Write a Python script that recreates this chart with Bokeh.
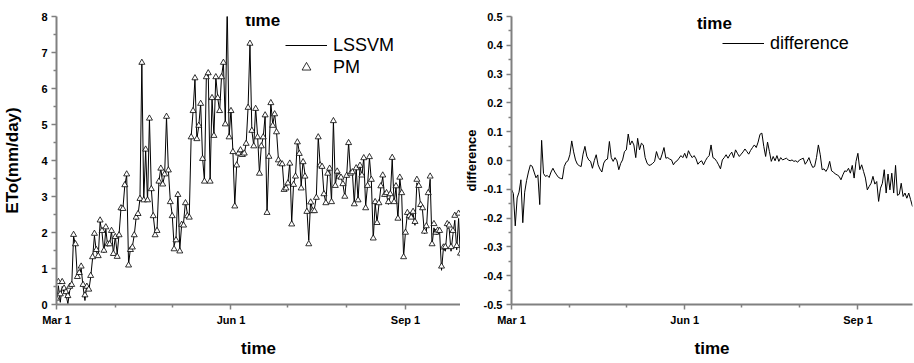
from bokeh.plotting import figure
from bokeh.layouts import row
from bokeh.models import Range1d, FixedTicker, Legend, LegendItem, Label, PrintfTickFormatter
from bokeh.embed import file_html
from bokeh.resources import INLINE

# x positions: days after Mar 1
day_ticks = [0, 92, 184]
day_labels = ["Mar 1", "Jun 1", "Sep 1"]
month_minor = [31, 61, 122, 153]

eto_ticks = [0, 1, 2, 3, 4, 5, 6, 7, 8]
eto_minor = [0.5, 1.5, 2.5, 3.5, 4.5, 5.5, 6.5, 7.5]
diff_ticks = [-0.5, -0.4, -0.3, -0.2, -0.1, 0.0, 0.1, 0.2, 0.3, 0.4, 0.5]
diff_minor = [-0.45, -0.35, -0.25, -0.15, -0.05, 0.05, 0.15, 0.25, 0.35, 0.45]

pm = [
    0.17, 0.63, 0.29, 0.63, 0.45, 0.35, 0.24, 0.50, 0.55, 1.94,
    1.68, 0.77, 0.88, 1.06, 0.55, 0.26, 0.50, 0.42, 0.80, 1.32,
    1.97, 1.52, 1.35, 2.34, 2.05, 1.50, 2.15, 1.68, 1.68, 2.05,
    1.41, 1.88, 1.33, 1.93, 2.68, 2.66, 3.32, 3.62, 1.09, 1.52,
    1.59, 1.93, 2.42, 2.52, 2.94, 6.72, 2.90, 4.31, 2.90, 5.17,
    3.21, 2.46, 1.93, 2.05, 3.42, 3.78, 3.34, 3.62, 5.22, 3.73,
    2.85, 2.46, 1.54, 1.79, 3.05, 1.48, 2.22, 2.20, 2.82, 2.46,
    2.42, 4.65, 5.38, 6.29, 4.60, 4.97, 5.58, 4.05, 3.42, 6.32,
    6.43, 3.42, 5.74, 4.69, 6.32, 5.74, 5.38, 6.32, 6.72, 5.01,
    8.30, 4.65, 5.38, 4.24, 2.73, 3.87, 4.20, 4.29, 4.16, 4.20,
    4.47, 5.47, 7.25, 4.83, 4.40, 5.44, 4.65, 3.64, 4.40, 4.65,
    5.26, 2.55, 4.11, 5.60, 4.97, 5.29, 4.79, 4.01, 3.92, 3.90,
    3.19, 3.23, 3.37, 3.92, 2.23, 3.33, 3.56, 4.51, 4.19, 3.23,
    3.96, 3.56, 2.58, 1.68, 2.84, 2.60, 2.60, 2.97, 4.65, 3.87,
    3.83, 3.07, 2.82, 3.64, 3.78, 2.85, 5.10, 3.30, 3.70, 3.56,
    3.53, 3.35, 3.00, 3.58, 4.49, 3.64, 3.68, 2.79, 3.79, 2.90,
    3.86, 3.59, 4.07, 2.68, 3.30, 4.10, 3.47, 1.84, 2.85, 2.27,
    2.82, 3.29, 3.59, 3.05, 3.10, 2.85, 3.07, 4.08, 2.85, 3.29,
    2.39, 3.53, 3.10, 1.32, 2.00, 2.55, 2.46, 2.42, 2.58, 2.30,
    3.47, 3.30, 2.77, 2.68, 2.03, 2.18, 3.10, 3.56, 1.68, 2.24,
    2.00, 2.06, 2.05, 1.06, 1.59, 1.60, 2.24, 2.20, 1.60, 2.05,
    2.47, 1.63, 2.53, 1.42,
]

lssvm = [
    0.07, 0.52, 0.06, 0.50, 0.34, 0.28, 0.02, 0.39, 0.48, 1.90,
    1.66, 0.75, 0.84, 1.00, 0.50, 0.11, 0.57, 0.38, 0.75, 1.27,
    1.91, 1.48, 1.32, 2.30, 2.00, 1.44, 2.09, 1.62, 1.66, 2.04,
    1.41, 1.90, 1.40, 1.96, 2.68, 2.65, 3.30, 3.60, 1.11, 1.57,
    1.61, 1.93, 2.42, 2.49, 2.94, 6.74, 2.89, 4.28, 2.86, 5.16,
    3.21, 2.47, 2.00, 2.06, 3.42, 3.79, 3.34, 3.59, 5.21, 3.73,
    2.88, 2.50, 1.63, 1.84, 3.12, 1.53, 2.23, 2.28, 2.86, 2.52,
    2.47, 4.66, 5.37, 6.27, 4.59, 4.96, 5.58, 4.08, 3.43, 6.32,
    6.45, 3.47, 5.75, 4.70, 6.33, 5.74, 5.37, 6.32, 6.72, 5.02,
    8.32, 4.66, 5.41, 4.25, 2.76, 3.89, 4.21, 4.31, 4.17, 4.19,
    4.47, 5.47, 7.24, 4.83, 4.41, 5.46, 4.70, 3.65, 4.41, 4.65,
    5.25, 2.52, 4.11, 5.61, 4.99, 5.30, 4.81, 4.04, 3.93, 3.94,
    3.22, 3.24, 3.39, 3.95, 2.27, 3.36, 3.58, 4.55, 4.24, 3.28,
    4.01, 3.62, 2.67, 1.78, 2.89, 2.61, 2.66, 3.00, 4.65, 3.88,
    3.83, 3.09, 2.82, 3.65, 3.78, 2.86, 5.11, 3.30, 3.70, 3.56,
    3.53, 3.35, 2.99, 3.58, 4.50, 3.65, 3.67, 2.79, 3.80, 2.89,
    3.84, 3.57, 4.08, 2.73, 3.32, 4.07, 3.44, 1.80, 2.82, 2.27,
    2.78, 3.25, 3.54, 3.00, 3.05, 2.78, 3.02, 4.04, 2.81, 3.26,
    2.35, 3.51, 3.04, 1.32, 2.03, 2.52, 2.45, 2.38, 2.52, 2.20,
    3.38, 3.22, 2.72, 2.60, 1.96, 2.04, 3.00, 3.48, 1.65, 2.13,
    1.95, 1.96, 2.01, 0.95, 1.57, 1.48, 2.12, 2.12, 1.48, 1.94,
    2.34, 1.52, 2.39, 1.26,
]

difference = [
    -0.100, -0.115, -0.227, -0.130, -0.110, -0.067, -0.216, -0.110, -0.070, -0.040,
    -0.016, -0.020, -0.040, -0.060, -0.050, -0.153, 0.070, -0.045, -0.055, -0.052,
    -0.059, -0.040, -0.027, -0.040, -0.050, -0.059, -0.062, -0.064, -0.021, -0.006,
    -0.001, 0.020, 0.068, 0.030, 0.002, -0.013, -0.018, -0.021, 0.022, 0.049,
    0.015, 0.002, -0.003, -0.027, 0.000, 0.020, -0.015, -0.030, -0.040, -0.009,
    0.002, 0.005, 0.066, 0.010, -0.003, 0.010, -0.001, -0.032, -0.010, 0.002,
    0.031, 0.037, 0.092, 0.054, 0.068, 0.054, 0.010, 0.077, 0.037, 0.060,
    0.054, 0.010, -0.009, -0.017, -0.015, -0.010, -0.003, 0.031, 0.010, 0.002,
    0.022, 0.045, 0.008, 0.010, 0.005, 0.002, -0.015, -0.005, -0.001, 0.008,
    0.017, 0.010, 0.025, 0.008, 0.034, 0.020, 0.010, 0.017, 0.006, -0.013,
    -0.005, -0.001, -0.015, -0.001, 0.010, 0.017, 0.054, 0.010, 0.006, -0.003,
    -0.015, -0.029, 0.002, 0.010, 0.020, 0.008, 0.020, 0.029, 0.010, 0.037,
    0.025, 0.014, 0.022, 0.030, 0.040, 0.031, 0.022, 0.035, 0.045, 0.054,
    0.045, 0.064, 0.091, 0.095, 0.049, 0.014, 0.064, 0.031, -0.003, 0.014,
    -0.001, 0.017, -0.003, 0.010, 0.002, 0.005, 0.008, 0.002, -0.001, 0.002,
    -0.003, -0.001, -0.006, 0.002, 0.005, 0.008, -0.013, -0.003, 0.010, -0.010,
    -0.024, -0.021, 0.010, 0.054, 0.020, -0.032, -0.029, -0.038, -0.027, -0.003,
    -0.036, -0.040, -0.047, -0.050, -0.055, -0.067, -0.050, -0.036, -0.038, -0.027,
    -0.044, -0.017, -0.061, -0.003, 0.025, -0.032, -0.015, -0.038, -0.061, -0.102,
    -0.090, -0.079, -0.055, -0.082, -0.073, -0.142, -0.096, -0.079, -0.032, -0.113,
    -0.047, -0.102, -0.044, -0.113, -0.017, -0.121, -0.117, -0.079, -0.125, -0.113,
    -0.131, -0.113, -0.136, -0.160,
]

day = list(range(len(pm)))

FONT = "Liberation Sans"
AXIS_GREY = "#808080"


def style_axes(p, yticks, yminor):
    p.xaxis.ticker = FixedTicker(ticks=day_ticks, minor_ticks=month_minor)
    p.xaxis.major_label_overrides = {t: l for t, l in zip(day_ticks, day_labels)}
    p.yaxis.ticker = FixedTicker(ticks=yticks, minor_ticks=yminor)
    for ax in (p.xaxis[0], p.yaxis[0]):
        ax.axis_line_color = AXIS_GREY
        ax.axis_line_width = 2
        ax.major_tick_line_color = AXIS_GREY
        ax.major_tick_line_width = 1.5
        ax.minor_tick_line_color = AXIS_GREY
        ax.minor_tick_line_width = 1.5
        ax.major_tick_in = 0
        ax.major_tick_out = 5
        ax.minor_tick_in = 0
        ax.minor_tick_out = 3
        ax.major_label_text_font = FONT
        ax.major_label_text_font_style = "bold"
        ax.major_label_text_font_size = "11px"
        ax.major_label_text_color = "black"
        ax.axis_label_text_font = FONT
        ax.axis_label_text_font_style = "bold"
        ax.axis_label_text_color = "black"
    p.xaxis.major_label_standoff = 4
    p.xaxis.axis_label_standoff = 10
    p.xaxis.axis_label_text_font_size = "17px"
    p.yaxis.major_label_standoff = 4
    p.xgrid.visible = False
    p.ygrid.visible = False
    p.outline_line_color = None


# ---------------- left panel ----------------
p1 = figure(width=460, height=360, output_backend="svg", toolbar_location=None,
            x_range=Range1d(0, 213), y_range=Range1d(0, 8),
            min_border_left=55, min_border_right=0, min_border_top=16, min_border_bottom=52)
style_axes(p1, eto_ticks, eto_minor)
p1.xaxis.axis_label = "time"
p1.yaxis.axis_label = "ETo(mm/day)"
p1.yaxis.axis_label_text_font_size = "17px"
p1.yaxis.axis_label_standoff = 16

r_l = p1.line(day, lssvm, line_color="black", line_width=1)
r_pm = p1.scatter(day, pm, marker="triangle", size=6, fill_color="white",
                  line_color="black", line_width=0.8)

leg1 = Legend(items=[LegendItem(label="LSSVM", renderers=[r_l]),
                     LegendItem(label="PM", renderers=[r_pm])],
              location=(229, 226), orientation="vertical",
              background_fill_alpha=0, border_line_alpha=0, padding=0, margin=0,
              spacing=-4, glyph_width=42, glyph_height=22, label_height=22,
              label_standoff=6, label_text_font=FONT, label_text_font_size="18px",
              label_text_color="black")
p1.add_layout(leg1)
p1.add_layout(Label(x=99.5, y=7.89, text="time", text_font=FONT, text_font_style="bold",
                    text_font_size="17px", text_baseline="alphabetic", text_color="black"))

# ---------------- right panel ----------------
p2 = figure(width=454, height=360, output_backend="svg", toolbar_location=None,
            x_range=Range1d(0, 213), y_range=Range1d(-0.5, 0.5),
            min_border_left=47, min_border_right=2, min_border_top=16, min_border_bottom=52)
style_axes(p2, diff_ticks, diff_minor)
p2.yaxis.formatter = PrintfTickFormatter(format="%.1f")
p2.xaxis.axis_label = "time"
p2.yaxis.axis_label = "difference"
p2.yaxis.axis_label_text_font_size = "13px"
p2.yaxis.axis_label_standoff = 2

r_d = p2.line(day, difference, line_color="black", line_width=1)
leg2 = Legend(items=[LegendItem(label="difference", renderers=[r_d])],
              location=(211, 250), orientation="vertical",
              background_fill_alpha=0, border_line_alpha=0, padding=0, margin=0,
              spacing=0, glyph_width=42, glyph_height=22, label_height=22,
              label_standoff=6, label_text_font=FONT, label_text_font_size="18px",
              label_text_color="black")
p2.add_layout(leg2)
p2.add_layout(Label(x=98.5, y=0.477, text="time", text_font=FONT, text_font_style="bold",
                    text_font_size="17px", text_baseline="alphabetic", text_color="black"))

layout = row(p1, p2)
open("out.html", "w").write(file_html(layout, INLINE))
